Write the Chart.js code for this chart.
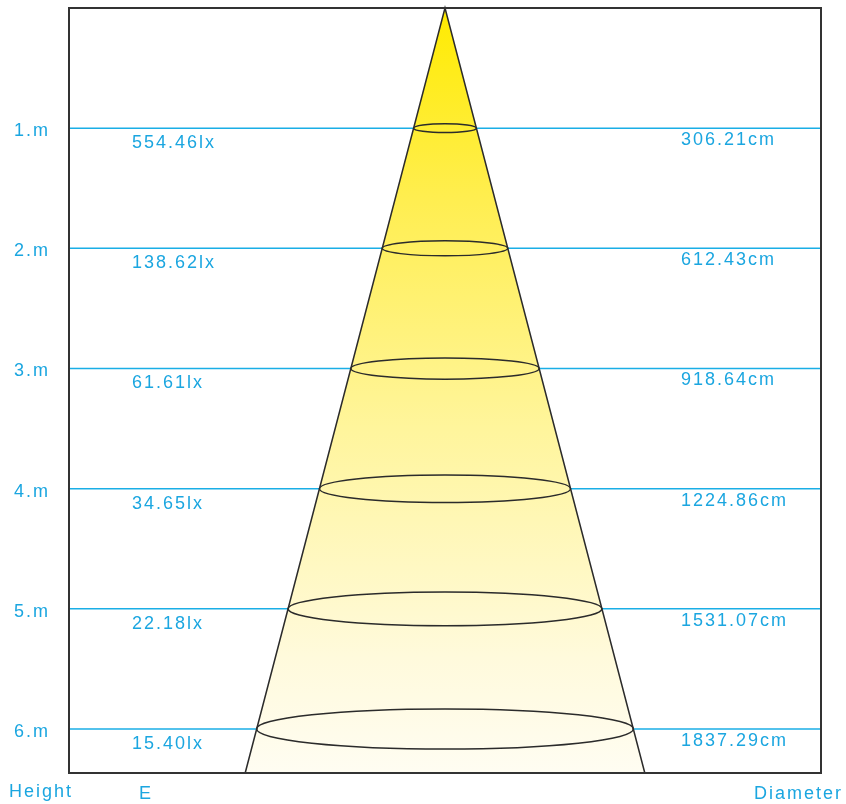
<!DOCTYPE html>
<html>
<head>
<meta charset="utf-8">
<script src="https://cdn.jsdelivr.net/npm/chart.js@4.4.1/dist/chart.umd.min.js"></script>
<style>
  html, body { margin: 0; padding: 0; background: #fff; }
  #wrap { width: 846px; height: 804px; position: relative; }
</style>
</head>
<body>
<div id="wrap"><canvas id="beam-chart"></canvas></div>
<script>
const heights = [1, 2, 3, 4, 5, 6];
const heightLabels = ['1.m', '2.m', '3.m', '4.m', '5.m', '6.m'];
const luxLabels = ['554.46lx', '138.62lx', '61.61lx', '34.65lx', '22.18lx', '15.40lx'];
const diameters = [306.21, 612.43, 918.64, 1224.86, 1531.07, 1837.29];
const diameterLabels = ['306.21cm', '612.43cm', '918.64cm', '1224.86cm', '1531.07cm', '1837.29cm'];

const X_HALF = 1834;   // cm shown each side of the beam axis
const Y_MAX = 6.366;   // m shown below the lamp

const BLUE = '#1aaee6';
const TEXT_BLUE = '#1ba6e0';
const DARK = '#2b2b2b';
const FONT = '"Liberation Sans", Arial, sans-serif';

// blue level lines, left and right of the cone
const levelSets = [];
heights.forEach((h, i) => {
  const r = diameters[i] / 2;
  levelSets.push({ data: [{ x: -X_HALF, y: h }, { x: -r, y: h }] });
  levelSets.push({ data: [{ x: r, y: h }, { x: X_HALF, y: h }] });
});
levelSets.forEach(ds => {
  ds.showLine = true;
  ds.borderColor = BLUE;
  ds.borderWidth = 1.5;
  ds.pointRadius = 0;
  ds.fill = false;
});

const conePlugin = {
  id: 'cone',
  beforeDraw: (chart) => {
    // spaced out lettering, like the original sheet
    chart.ctx.letterSpacing = '2px';
  },
  beforeDatasetsDraw: (chart) => {
    const { ctx, scales } = chart;
    const x = scales.x, y = scales.y;
    // cone slope taken from the widest ring
    const slope = (diameters[5] / 2) / heights[5];
    const cx = x.getPixelForValue(0);
    const top = y.getPixelForValue(0);
    const bot = y.getPixelForValue(Y_MAX);
    const half = x.getPixelForValue(slope * Y_MAX) - cx;

    const grad = ctx.createLinearGradient(0, top, 0, bot);
    grad.addColorStop(0, '#ffeb00');
    grad.addColorStop(0.25, '#ffee50');
    grad.addColorStop(0.55, '#fff59c');
    grad.addColorStop(0.85, '#fffadc');
    grad.addColorStop(1, '#fffdf2');

    ctx.save();
    ctx.beginPath();
    ctx.moveTo(cx, top);
    ctx.lineTo(cx + half, bot);
    ctx.lineTo(cx - half, bot);
    ctx.closePath();
    ctx.fillStyle = grad;
    ctx.fill();
    ctx.restore();
  },
  afterDatasetsDraw: (chart) => {
    const { ctx, chartArea, scales } = chart;
    const x = scales.x, y = scales.y;
    const slope = (diameters[5] / 2) / heights[5];
    const cx = x.getPixelForValue(0);
    const top = y.getPixelForValue(0);
    const bot = y.getPixelForValue(Y_MAX);
    const half = x.getPixelForValue(slope * Y_MAX) - cx;

    ctx.save();
    ctx.strokeStyle = DARK;
    ctx.lineWidth = 1.5;
    // rings
    heights.forEach((h, i) => {
      const rx = x.getPixelForValue(diameters[i] / 2) - cx;
      const ry = rx * 0.1 + 1.2;
      ctx.beginPath();
      ctx.ellipse(cx, y.getPixelForValue(h), rx, ry, 0, 0, Math.PI * 2);
      ctx.stroke();
    });
    // cone sides
    ctx.beginPath();
    ctx.moveTo(cx - half, bot);
    ctx.lineTo(cx, top);
    ctx.lineTo(cx + half, bot);
    ctx.stroke();

    // frame
    ctx.strokeStyle = '#333';
    ctx.lineWidth = 2;
    ctx.strokeRect(chartArea.left, chartArea.top, chartArea.right - chartArea.left, chartArea.bottom - chartArea.top);

    // value labels
    ctx.fillStyle = TEXT_BLUE;
    ctx.font = '18px ' + FONT;
    ctx.letterSpacing = '2px';
    ctx.textBaseline = 'middle';
    ctx.textAlign = 'left';
    heights.forEach((h, i) => {
      const py = y.getPixelForValue(h);
      ctx.fillText(luxLabels[i], 132, py + 15);
      ctx.fillText(diameterLabels[i], 681, py + 12);
    });
    // column titles
    ctx.fillText('Height', 9, 792);
    ctx.fillText('E', 139, 794);
    ctx.fillText('Diameter', 754, 794);
    ctx.restore();
  }
};

const ctx = document.getElementById('beam-chart').getContext('2d');
new Chart(ctx, {
  type: 'scatter',
  data: { datasets: levelSets },
  options: {
    responsive: true,
    maintainAspectRatio: false,
    animation: false,
    layout: { padding: { left: 14, right: 25, top: 8, bottom: 31 } },
    scales: {
      x: {
        type: 'linear',
        min: -X_HALF,
        max: X_HALF,
        display: false
      },
      y: {
        type: 'linear',
        min: 0,
        max: Y_MAX,
        reverse: true,
        afterFit: (scale) => {
          scale.width = 55;
          scale.paddingTop = 0;
          scale.paddingBottom = 0;
        },
        afterBuildTicks: (scale) => { scale.ticks = heights.map(v => ({ value: v })); },
        grid: { display: false, drawTicks: false },
        border: { display: false },
        ticks: {
          color: TEXT_BLUE,
          font: { family: FONT, size: 18 },
          crossAlign: 'far',
          padding: 0,
          labelOffset: 3,
          callback: (v) => heightLabels[heights.indexOf(v)]
        }
      }
    },
    plugins: {
      legend: { display: false },
      tooltip: { enabled: false }
    }
  },
  plugins: [conePlugin]
});
</script>
</body>
</html>
